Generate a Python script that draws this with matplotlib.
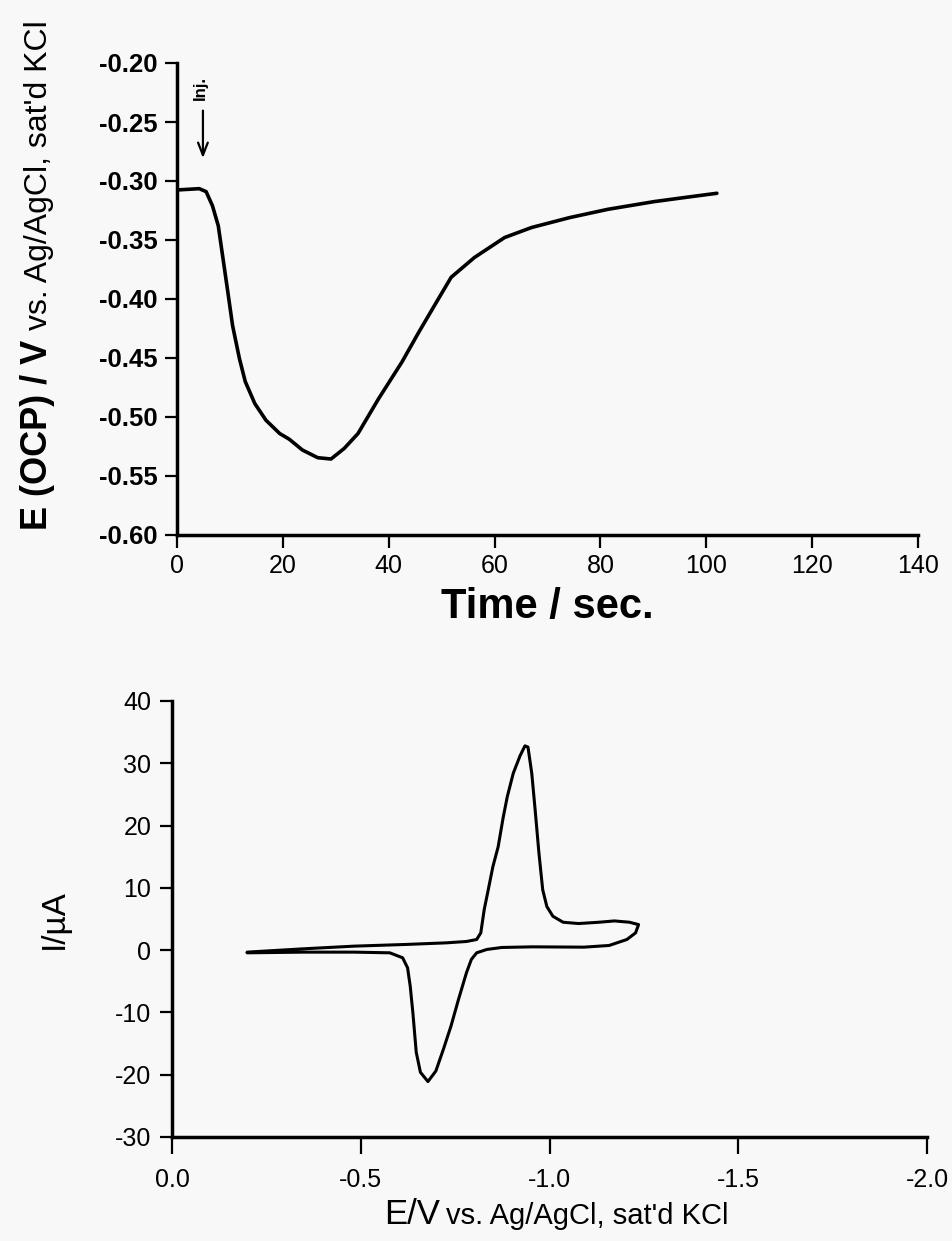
import numpy as np
import matplotlib.pyplot as plt

plt.rcParams['font.family'] = ['Liberation Sans', 'DejaVu Sans']

# OCP transient after injection
t_ocp = [0.0, 4.2, 5.5, 6.7, 7.8, 8.7, 9.6, 10.5, 11.8, 12.9, 14.7, 16.8, 19.4, 21.2,
         23.7, 26.6, 29.1, 31.6, 34.2, 38.1, 42.5, 45.7, 49.0, 51.8, 56.2, 61.9,
         67.0, 74.2, 81.4, 90.1, 95.9, 102.0]
e_ocp = [-0.3076, -0.3065, -0.309, -0.321, -0.338, -0.366, -0.394, -0.4225, -0.4506,
         -0.470, -0.4886, -0.5027, -0.514, -0.5188, -0.528, -0.5345, -0.5356, -0.5266,
         -0.514, -0.4844, -0.4534, -0.428, -0.4028, -0.3816, -0.3648, -0.3479,
         -0.3394, -0.331, -0.324, -0.3175, -0.314, -0.3104]

# cyclic voltammogram
e_cv = [-0.199, -0.347, -0.482, -0.618, -0.726, -0.78, -0.807, -0.818, -0.827, -0.836,
        -0.85, -0.864, -0.877, -0.888, -0.904, -0.922, -0.935, -0.943, -0.953, -0.962,
        -0.972, -0.982, -0.993, -1.009, -1.036, -1.077, -1.131, -1.172, -1.212, -1.236,
        -1.228, -1.205, -1.158, -1.091, -0.955, -0.874, -0.834, -0.807, -0.793, -0.78,
        -0.759, -0.739, -0.719, -0.699, -0.678, -0.658, -0.647, -0.638, -0.631, -0.624,
        -0.611, -0.577, -0.482, -0.347, -0.199]
i_cv = [-0.32, 0.21, 0.64, 0.91, 1.17, 1.39, 1.71, 2.77, 6.5, 9.17,
        13.4, 16.6, 21.2, 24.6, 28.4, 31.2, 32.8, 32.6, 28.4, 22.5,
        15.6, 9.7, 7.0, 5.44, 4.48, 4.27, 4.48, 4.69, 4.48, 4.1,
        2.77, 1.71, 0.75, 0.48, 0.53, 0.43, 0.11, -0.43, -1.49, -3.63,
        -7.9, -12.2, -15.9, -19.4, -21.1, -19.6, -16.4, -10.0, -5.76, -2.83,
        -1.23, -0.43, -0.32, -0.32, -0.43]

top_yticks = [-0.20, -0.25, -0.30, -0.35, -0.40, -0.45, -0.50, -0.55, -0.60]
top_xticks = [0, 20, 40, 60, 80, 100, 120, 140]
bot_yticks = [40, 30, 20, 10, 0, -10, -20, -30]
bot_xticks = [0.0, -0.5, -1.0, -1.5, -2.0]

W, H = 952, 1241
bg = '#f8f8f8'
fig = plt.figure(figsize=(W / 100, H / 100), dpi=100, facecolor=bg)


def px(x0, y0, x1, y1):
    return [x0 / W, 1 - y1 / H, (x1 - x0) / W, (y1 - y0) / H]


# ---- top panel
ax1 = fig.add_axes(px(177, 63, 918, 535), facecolor=bg)
ax1.plot(t_ocp, e_ocp, color='black', lw=2.6, solid_joinstyle='round', solid_capstyle='round')
ax1.set_xlim(0, 140)
ax1.set_ylim(-0.60, -0.20)
ax1.set_xticks(top_xticks)
ax1.set_yticks(top_yticks)
ax1.set_yticklabels(['%.2f' % v for v in top_yticks], fontsize=18.5, fontweight='bold')
ax1.set_xticklabels([str(v) for v in top_xticks], fontsize=18)
for s in ['top', 'right']:
    ax1.spines[s].set_visible(False)
for s in ['left', 'bottom']:
    ax1.spines[s].set_linewidth(2.5)
ax1.tick_params(direction='out', length=9, width=1.6, pad=5)
ax1.set_xlabel('Time / sec.', fontsize=30, fontweight='bold', labelpad=6)

ax1.annotate('', xy=(4.9, -0.283), xytext=(4.9, -0.238),
             arrowprops=dict(arrowstyle='->,head_length=0.9,head_width=0.35', lw=1.6, color='black'))
ax1.text(4.5, -0.221, 'Inj.', rotation=90, ha='center', va='center', fontsize=12, fontweight='bold')

# two-part rotated y label
t1 = fig.text(47 / W, 1 - 530 / H, 'E (OCP) / V', rotation=90, rotation_mode='anchor',
              ha='left', va='baseline', fontsize=26, fontweight='bold')
fig.canvas.draw()
bb = t1.get_window_extent()
fig.text(47 / W, (bb.y1 + 10) / H, "vs. Ag/AgCl, sat'd KCl", rotation=90,
         rotation_mode='anchor', ha='left', va='baseline', fontsize=23)

# ---- bottom panel
ax2 = fig.add_axes(px(172, 701, 927, 1137), facecolor=bg)
ax2.plot(e_cv, i_cv, color='black', lw=2.2, solid_joinstyle='round', solid_capstyle='round')
ax2.set_xlim(0, -2.0)
ax2.set_ylim(-30, 40)
ax2.set_xticks(bot_xticks)
ax2.set_xticklabels(['%.1f' % v for v in bot_xticks], fontsize=18)
ax2.set_yticks(bot_yticks)
ax2.set_yticklabels([str(v) for v in bot_yticks], fontsize=18)
for s in ['top', 'right']:
    ax2.spines[s].set_visible(False)
for s in ['left', 'bottom']:
    ax2.spines[s].set_linewidth(2.5)
ax2.tick_params(direction='out', length=9, width=1.6, pad=6)
ax2.tick_params(axis='x', length=12, pad=10)
ax2.set_ylabel('I/\u00b5A', fontsize=24, labelpad=32)

fig.text(440 / W, 1 - 1224 / H, 'E/V', ha='right', va='baseline', fontsize=25)
fig.text(446 / W, 1 - 1224 / H, "vs. Ag/AgCl, sat'd KCl", ha='left', va='baseline', fontsize=21)

fig.savefig('out.png', dpi=100, facecolor=bg)
